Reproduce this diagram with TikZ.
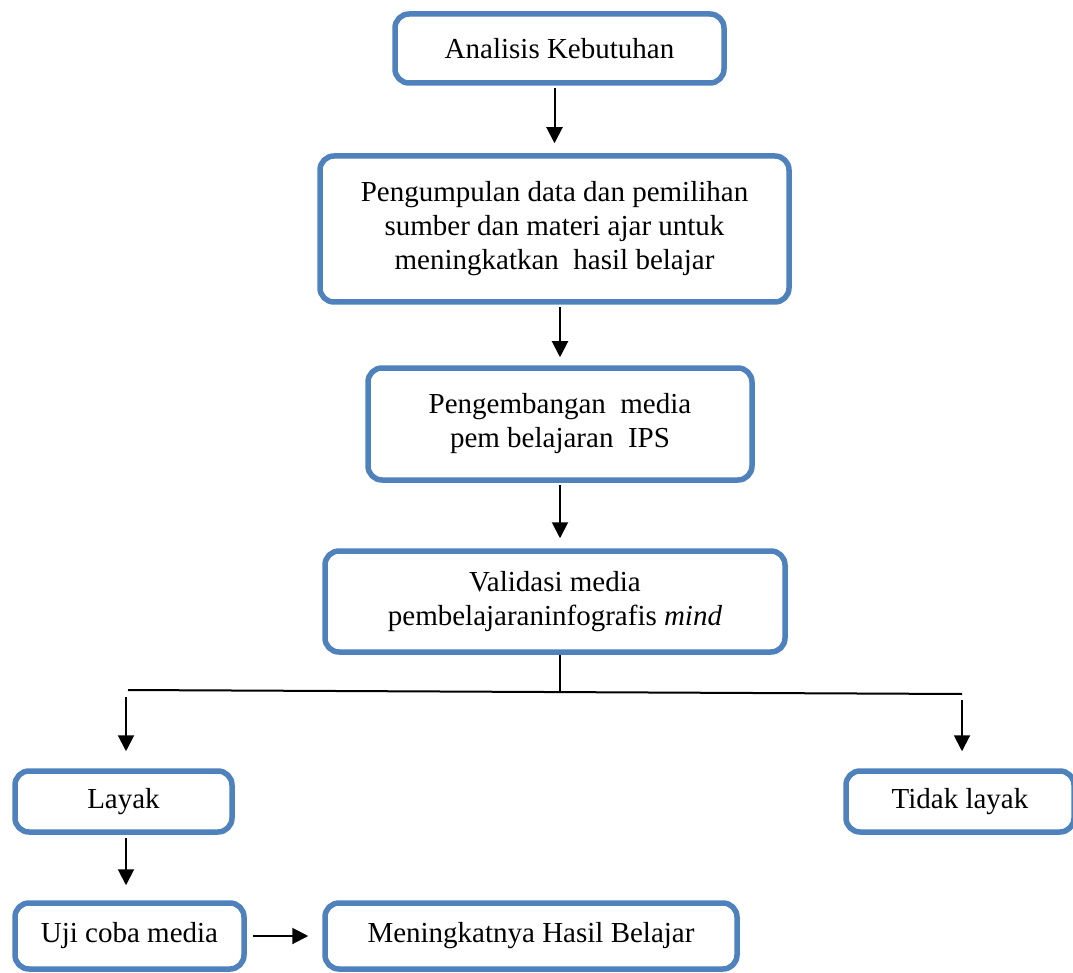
\documentclass[tikz,border=0pt]{standalone}
\usepackage{fontspec}
\setmainfont{Liberation Serif}
\usetikzlibrary{arrows.meta,calc}
\definecolor{boxblue}{HTML}{4F81BD}
\begin{document}
\begin{tikzpicture}[x=1pt,y=-1pt,
  box/.style={draw=boxblue, line width=5.5pt, rounded corners=14pt, fill=white,
    inner sep=0pt, align=center, font=\fontsize{29}{34}\selectfont},
  arr/.style={line width=2pt, -{Triangle[width=16pt,length=16pt]}},
  ln/.style={line width=2pt}]
\useasboundingbox (0,0) rectangle (1073,973);
\node[box, minimum width=329pt, minimum height=69pt] (b1) at (559.5,48.5) {Analisis Kebutuhan};
\node[box, minimum width=469pt, minimum height=146pt] (b2) at (554.5,229) {Pengumpulan data dan pemilihan\\sumber dan materi ajar untuk\\meningkatkan\ \ hasil belajar};
\node[box, minimum width=384pt, minimum height=112pt] (b3) at (560,424) {Pengembangan\ \ media\\pem belajaran\ \ IPS};
\node[box, minimum width=460pt, minimum height=101pt] (b4) at (555,601.5) {Validasi media\\pembelajaraninfografis \textit{mind}};
\node[box, minimum width=217pt, minimum height=61pt] (layak) at (123.5,801.5) {Layak};
\node[box, minimum width=228pt, minimum height=61pt] (tidak) at (960,801.5) {Tidak layak};
\node[box, minimum width=229pt, minimum height=66pt] (uji) at (129.5,936) {Uji coba media};
\node[box, minimum width=412pt, minimum height=66pt] (hasil) at (531,936) {Meningkatnya Hasil Belajar};
\draw[arr, shorten <=2pt, shorten >=10pt] (b1.south -| b2.north) -- (b2.north);
\draw[arr, shorten <=2pt, shorten >=8pt] (b2.south -| b3.north) -- (b3.north);
\draw[arr, shorten <=2pt, shorten >=10pt] (b3.south) -- (b3.south |- b4.north);
\coordinate (hl) at (128,690);
\coordinate (hr) at (962,694);
\coordinate (hm) at (560,692);
\coordinate (lx) at ($(layak.north)+(2.5,0)$);
\draw[ln] (hl) -- (hr);
\draw[ln] (b4.south -| hm) -- (hm);
\draw[arr, shorten <=7pt, shorten >=17pt] (hl -| lx) -- (lx);
\draw[arr, shorten <=6pt, shorten >=17pt] (hr) -- (hr |- tidak.north);
\draw[arr, shorten <=3pt, shorten >=15pt] (layak.south -| lx) -- (uji.north -| lx);
\draw[arr, shorten <=6pt, shorten >=14pt] (uji.east) -- (uji.east -| hasil.west);
\end{tikzpicture}
\end{document}
